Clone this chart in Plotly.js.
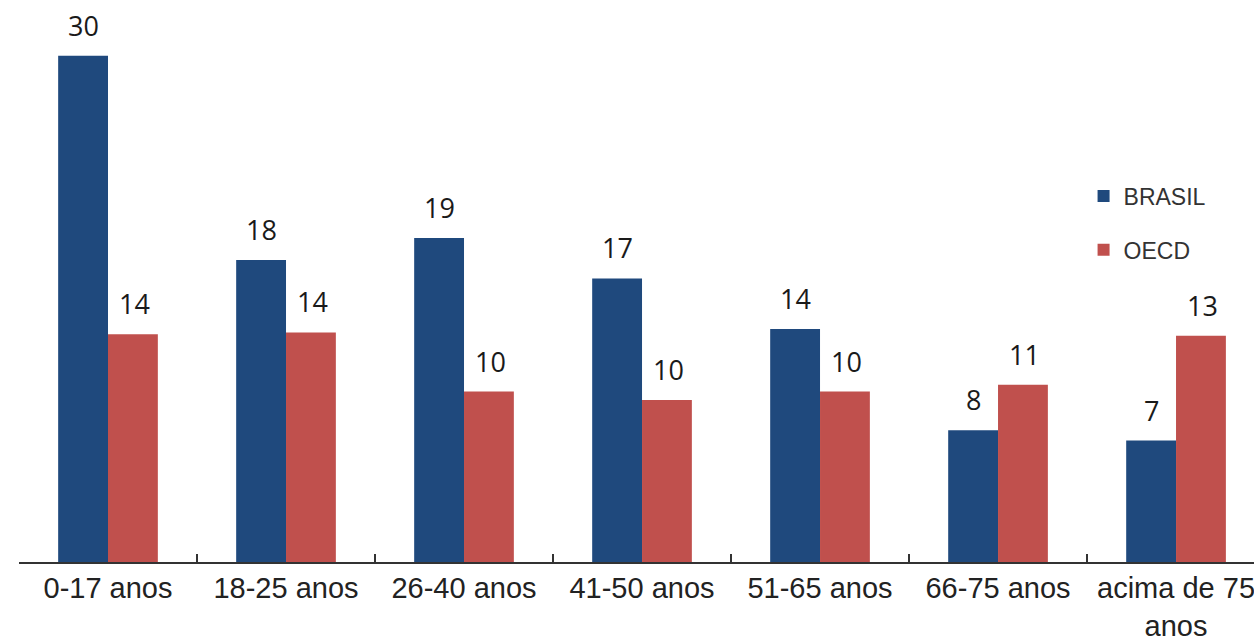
<!DOCTYPE html>
<html><head><meta charset="utf-8">
<script src="https://cdn.plot.ly/plotly-3.0.1.min.js"></script>
<style>html,body{margin:0;padding:0;background:#fff}#chart{width:1254px;height:643px}</style>
</head><body><div id="chart"></div>
<script>
const categories = ['0-17 anos','18-25 anos','26-40 anos','41-50 anos','51-65 anos','66-75 anos','acima de 75<br>anos'];
const brasil = [30, 17.9, 19.2, 16.8, 13.8, 7.8, 7.2];
const oecd = [13.5, 13.6, 10.1, 9.6, 10.1, 10.5, 13.4];
const seriesNames = ['BRASIL', 'OECD'];
const seriesColors = ['#1F497D', '#C0504D'];

const seriesValues = [brasil, oecd];
const traces = seriesValues.map((vals, k) => ({
  type: 'bar', name: seriesNames[k], x: categories, y: vals,
  marker: {color: seriesColors[k], line: {width: 0}},
  legendgroup: 'g' + k, hoverinfo: 'skip'
}));

const shifts = [-25, 26];
const annotations = [];
seriesValues.forEach((vals, k) => {
  vals.forEach((v, i) => {
    annotations.push({
      x: categories[i], y: v, xref: 'x', yref: 'y',
      text: v.toFixed(0), showarrow: false,
      xanchor: 'center', yanchor: 'bottom',
      xshift: shifts[k], yshift: 10,
      font: {family: 'Open Sans, Noto Sans, sans-serif', size: 27, color: '#1a1a1a'}
    });
  });
});

const layout = {
  width: 1254, height: 643,
  margin: {l: 19, r: 0, t: 10, b: 81, pad: 0},
  paper_bgcolor: '#ffffff', plot_bgcolor: '#ffffff',
  barmode: 'group', bargap: 0.44, bargroupgap: 0,
  showlegend: true,
  legend: {
    x: 0.862, y: 0.702, xanchor: 'left', yanchor: 'top',
    traceorder: 'grouped', tracegroupgap: 21,
    font: {family: 'Liberation Sans, Arial, sans-serif', size: 23, color: '#333'},
    bgcolor: 'rgba(0,0,0,0)', itemwidth: 30
  },
  xaxis: {
    type: 'category', range: [-0.5, 6.438], fixedrange: true,
    showline: true, linecolor: '#333', linewidth: 1.5,
    ticks: 'inside', tickson: 'boundaries', ticklen: 8, tickwidth: 1.5, tickcolor: '#333',
    showgrid: false, zeroline: false, automargin: false,
    tickfont: {family: 'Liberation Sans, Arial, sans-serif', size: 29, color: '#222'}
  },
  yaxis: {
    range: [0, 32.71], visible: false, showgrid: false, zeroline: false, fixedrange: true
  },
  annotations: annotations
};

Plotly.newPlot('chart', traces, layout, {displayModeBar: false, staticPlot: true});
</script>
</body></html>
